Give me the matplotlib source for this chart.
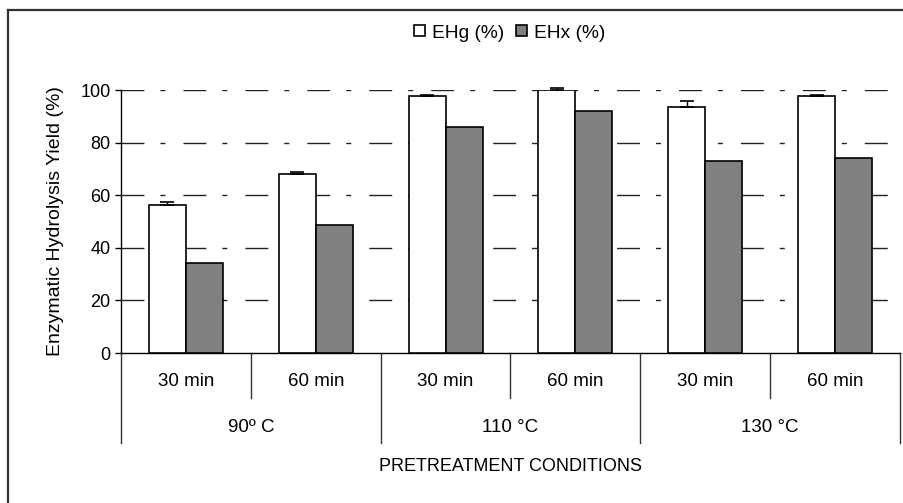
import matplotlib
matplotlib.use('Agg')
import matplotlib.pyplot as plt
import matplotlib.transforms as mtrans
from matplotlib.lines import Line2D
from matplotlib.patches import Patch
import numpy as np

plt.rcParams['font.family'] = ['Liberation Sans', 'DejaVu Sans']

groups = ['90º C', '110 °C', '130 °C']
times = ['30 min', '60 min', '30 min', '60 min', '30 min', '60 min']
ehg = [56.4, 67.9, 97.8, 100.0, 93.7, 97.8]
ehg_err = [1.0, 0.8, 0.3, 0.9, 2.2, 0.3]
ehx = [34.3, 48.5, 85.8, 92.1, 72.9, 74.3]

fig = plt.figure(figsize=(9.04, 5.03), dpi=100)
ax = fig.add_axes([121 / 904, 150 / 503, 779 / 904, 263 / 503])

w = 0.285
x = np.arange(len(times)) + 0.5
ax.bar(x - w / 2, ehg, w, color='white', edgecolor='black', linewidth=1.2, zorder=3,
       label='EHg (%)')
eb = ax.errorbar(x - w / 2, ehg, yerr=[np.zeros(len(ehg)), ehg_err], fmt='none', ecolor='black',
                 elinewidth=1, capsize=4.7, capthick=1.2, zorder=4)
for art in eb.get_children():
    art.set_clip_on(False)
ax.bar(x + w / 2, ehx, w, color='#808080', edgecolor='black', linewidth=1.2, zorder=3,
       label='EHx (%)')

ax.set_xlim(0, 6)
ax.set_ylim(0, 100)
ax.set_yticks([0, 20, 40, 60, 80, 100])
ax.tick_params(axis='y', direction='out', length=4.5, width=1, labelsize=13, pad=3)
ax.set_xticks([])
for yv in [20, 40, 60, 80, 100]:
    ax.axhline(yv, color='#222222', linewidth=1, zorder=1,
               linestyle=(0, (16.5, 11.5, 3.6, 13.0)))
for s in ['top', 'right']:
    ax.spines[s].set_visible(False)
ax.spines['left'].set_linewidth(1)
ax.spines['bottom'].set_linewidth(1)
ax.set_ylabel('Enzymatic Hydrolysis Yield (%)', fontsize=14, labelpad=12)

# category axis underneath
trans = mtrans.blended_transform_factory(ax.transData, ax.transAxes)
for xb in [1, 3, 5]:
    ax.plot([xb, xb], [0, -0.171], color='#333333', linewidth=1, transform=trans, clip_on=False)
for xb in [0, 2, 4, 6]:
    ax.plot([xb, xb], [0, -0.342], color='#333333', linewidth=1, transform=trans, clip_on=False)
for i, t in enumerate(times):
    ax.text(x[i], -0.11, t, transform=trans, ha='center', va='center', fontsize=13.5)
for j, g in enumerate(groups):
    ax.text(2 * j + 1, -0.285, g, transform=trans, ha='center', va='center', fontsize=13.5)
ax.text(3, -0.433, 'PRETREATMENT CONDITIONS', transform=trans, ha='center', va='center',
        fontsize=13)

handles = [Patch(facecolor='white', edgecolor='black', linewidth=1.2, label='EHg (%)'),
           Patch(facecolor='#808080', edgecolor='black', linewidth=1.2, label='EHx (%)')]
fig.legend(handles=handles, loc='center', bbox_to_anchor=(510 / 904, 1 - 33 / 503), ncol=2,
           frameon=False, fontsize=13.8, handlelength=0.55, handleheight=0.55,
           handletextpad=0.4, columnspacing=0.6)

# outer frame of the picture
fig.add_artist(Line2D([8 / 904, 8 / 904], [0, 1 - 9.5 / 503], color='#333333', linewidth=1.6,
                      transform=fig.transFigure))
fig.add_artist(Line2D([8 / 904, 1], [1 - 9.5 / 503, 1 - 9.5 / 503], color='#333333',
                      linewidth=1.6, transform=fig.transFigure))

fig.savefig('out.png', dpi=100)
